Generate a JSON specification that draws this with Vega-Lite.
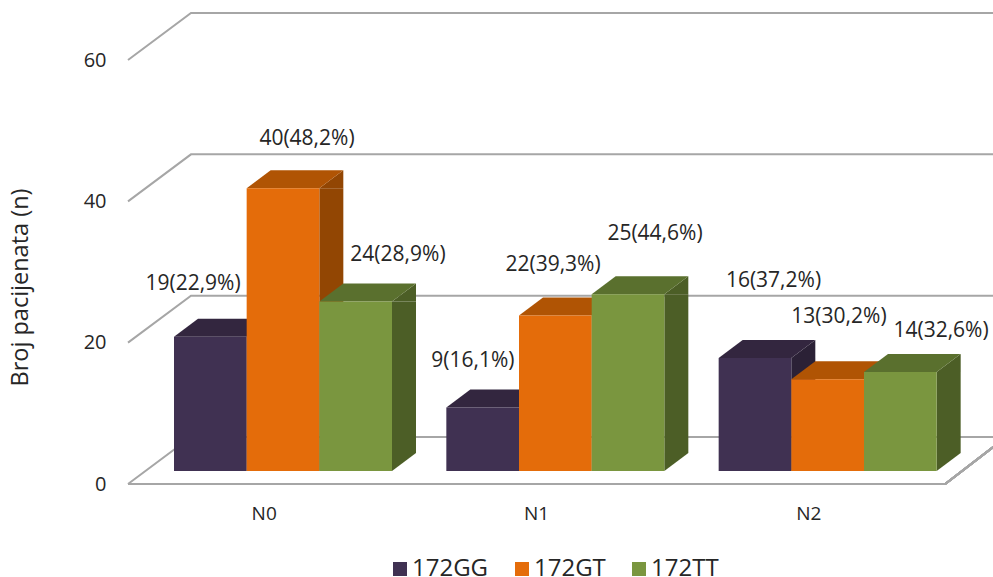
{
"$schema":"https://vega.github.io/schema/vega-lite/v6.json",
"width":865,"height":424,
"autosize":{"type":"none"},
"padding":{"left":128,"top":60,"right":0,"bottom":93},
"background":"white",
"config":{"view":{"stroke":null},"font":"Open Sans"},
"datasets":{
"bars":[
{"group":"N0","series":"172GG","value":19,"label":"19(22,9%)"},
{"group":"N0","series":"172GT","value":40,"label":"40(48,2%)"},
{"group":"N0","series":"172TT","value":24,"label":"24(28,9%)"},
{"group":"N1","series":"172GG","value":9,"label":"9(16,1%)"},
{"group":"N1","series":"172GT","value":22,"label":"22(39,3%)"},
{"group":"N1","series":"172TT","value":25,"label":"25(44,6%)"},
{"group":"N2","series":"172GG","value":16,"label":"16(37,2%)"},
{"group":"N2","series":"172GT","value":13,"label":"13(30,2%)"},
{"group":"N2","series":"172TT","value":14,"label":"14(32,6%)"}
],
"ticks":[{"value":0},{"value":20},{"value":40},{"value":60}]
},
"data":{"name":"bars"},
"encoding":{
"x":{"field":"group","type":"nominal","title":null,"scale":{"type":"band","domain":["N0","N1","N2"],"range":[0,817],"paddingInner":0,"paddingOuter":0},
"axis":{"ticks":false,"domain":false,"labelAngle":0,"labelFontSize":19,"labelColor":"#262626","labelPadding":20,"labelFont":"Open Sans"}},
"xOffset":{"field":"series","type":"nominal","scale":{"type":"band","domain":["172GG","172GT","172TT"],"range":[27,245],"paddingInner":0,"paddingOuter":0}},
"y":{"field":"value","type":"quantitative","title":"Broj pacijenata (n)","scale":{"domain":[0,60],"nice":false},
"axis":{"values":[0,20,40,60],"ticks":false,"domain":false,"grid":false,"labelFontSize":20,"labelColor":"#262626","labelPadding":22,"labelFont":"Open Sans","titleFontSize":23.5,"titleFontWeight":"normal","titleColor":"#262626","titleFont":"Open Sans","titleX":-96,"titleY":227}}
},
"layer":[
{"data":{"name":"ticks"},"mark":{"type":"point","shape":"M-136.17,0 L-73.17,-47 L729,-47","size":4,"filled":false,"stroke":"#a6a6a6","strokeWidth":2,"opacity":1},
 "encoding":{"x":{"datum":"N0"},"xOffset":null}},
{"mark":{"type":"point","shape":"M-136.17,0 L681,0 L729,-37","size":4,"filled":false,"stroke":"#a6a6a6","strokeWidth":2,"opacity":1},
 "encoding":{"x":{"datum":"N0"},"xOffset":null,"y":{"datum":0}}},
{"mark":{"type":"bar","width":24,"yOffset":-13,"y2Offset":-31},
 "encoding":{"xOffset":{"field":"series","type":"nominal","scale":{"type":"band","domain":["172GG","172GT","172TT"],"range":[94.33,312.33],"paddingInner":0,"paddingOuter":0}},"y2":{"datum":0},"color":{"field":"series","legend":null,"scale":{"domain":["172GG","172GT","172TT"],"range":["#2b2136","#924603","#4c5e26"]}}}},
{"mark":{"type":"point","shape":"M55.33,-13 L79.33,-31 L79.33,-13 Z","size":4,"filled":true,"opacity":1},
 "encoding":{"color":{"field":"series","legend":null,"scale":{"domain":["172GG","172GT","172TT"],"range":["#2b2136","#924603","#4c5e26"]}}}},
{"mark":{"type":"point","shape":"M55.33,-13 L55.33,-31 L79.33,-31 Z","size":4,"filled":true,"opacity":1},
 "encoding":{"y":{"datum":0},"color":{"field":"series","legend":null,"scale":{"domain":["172GG","172GT","172TT"],"range":["#2b2136","#924603","#4c5e26"]}}}},
{"mark":{"type":"point","shape":"M-17.33,-13 L55.33,-13 L79.33,-31 L6.67,-31 Z","size":4,"filled":true,"opacity":1},
 "encoding":{"color":{"field":"series","legend":null,"scale":{"domain":["172GG","172GT","172TT"],"range":["#33263f","#b05404","#5a702e"]}}}},
{"mark":{"type":"bar","yOffset":-13,"y2Offset":-13},
 "encoding":{"xOffset":{"field":"series","type":"nominal","scale":{"type":"band","domain":["172GG","172GT","172TT"],"range":[46,264],"paddingInner":0,"paddingOuter":0}},"y2":{"datum":0},"color":{"field":"series","title":null,"scale":{"domain":["172GG","172GT","172TT"],"range":["#403152","#e46c0a","#7a963f"]},
 "legend":{"orient":"none","legendX":260,"legendY":497,"direction":"horizontal","symbolType":"square","symbolSize":196,"symbolStrokeWidth":0,"labelFontSize":24,"labelColor":"#262626","labelFont":"Open Sans","labelOffset":0,"columnPadding":21,"padding":0}}}},
{"transform":[{"filter":"datum.group=='N0'&&datum.series=='172GG'"}],"mark":{"type":"text","fontSize":21,"color":"#262626","dx":1.7,"dy":-65.7},"encoding":{"text":{"field":"label"}}},
{"transform":[{"filter":"datum.group=='N0'&&datum.series=='172GT'"}],"mark":{"type":"text","fontSize":21,"color":"#262626","dx":43,"dy":-62.3},"encoding":{"text":{"field":"label"}}},
{"transform":[{"filter":"datum.group=='N0'&&datum.series=='172TT'"}],"mark":{"type":"text","fontSize":21,"color":"#262626","dx":61.3,"dy":-59.4},"encoding":{"text":{"field":"label"}}},
{"transform":[{"filter":"datum.group=='N1'&&datum.series=='172GG'"}],"mark":{"type":"text","fontSize":21,"color":"#262626","dx":9.3,"dy":-59.4},"encoding":{"text":{"field":"label"}}},
{"transform":[{"filter":"datum.group=='N1'&&datum.series=='172GT'"}],"mark":{"type":"text","fontSize":21,"color":"#262626","dx":16.7,"dy":-63.5},"encoding":{"text":{"field":"label"}}},
{"transform":[{"filter":"datum.group=='N1'&&datum.series=='172TT'"}],"mark":{"type":"text","fontSize":21,"color":"#262626","dx":46,"dy":-73.3},"encoding":{"text":{"field":"label"}}},
{"transform":[{"filter":"datum.group=='N2'&&datum.series=='172GG'"}],"mark":{"type":"text","fontSize":21,"color":"#262626","dx":37.5,"dy":-89.9},"encoding":{"text":{"field":"label"}}},
{"transform":[{"filter":"datum.group=='N2'&&datum.series=='172GT'"}],"mark":{"type":"text","fontSize":21,"color":"#262626","dx":30.3,"dy":-75.1},"encoding":{"text":{"field":"label"}}},
{"transform":[{"filter":"datum.group=='N2'&&datum.series=='172TT'"}],"mark":{"type":"text","fontSize":21,"color":"#262626","dx":59.7,"dy":-54.1},"encoding":{"text":{"field":"label"}}}
],
"resolve":{"scale":{"color":"independent","xOffset":"independent"}}
}
